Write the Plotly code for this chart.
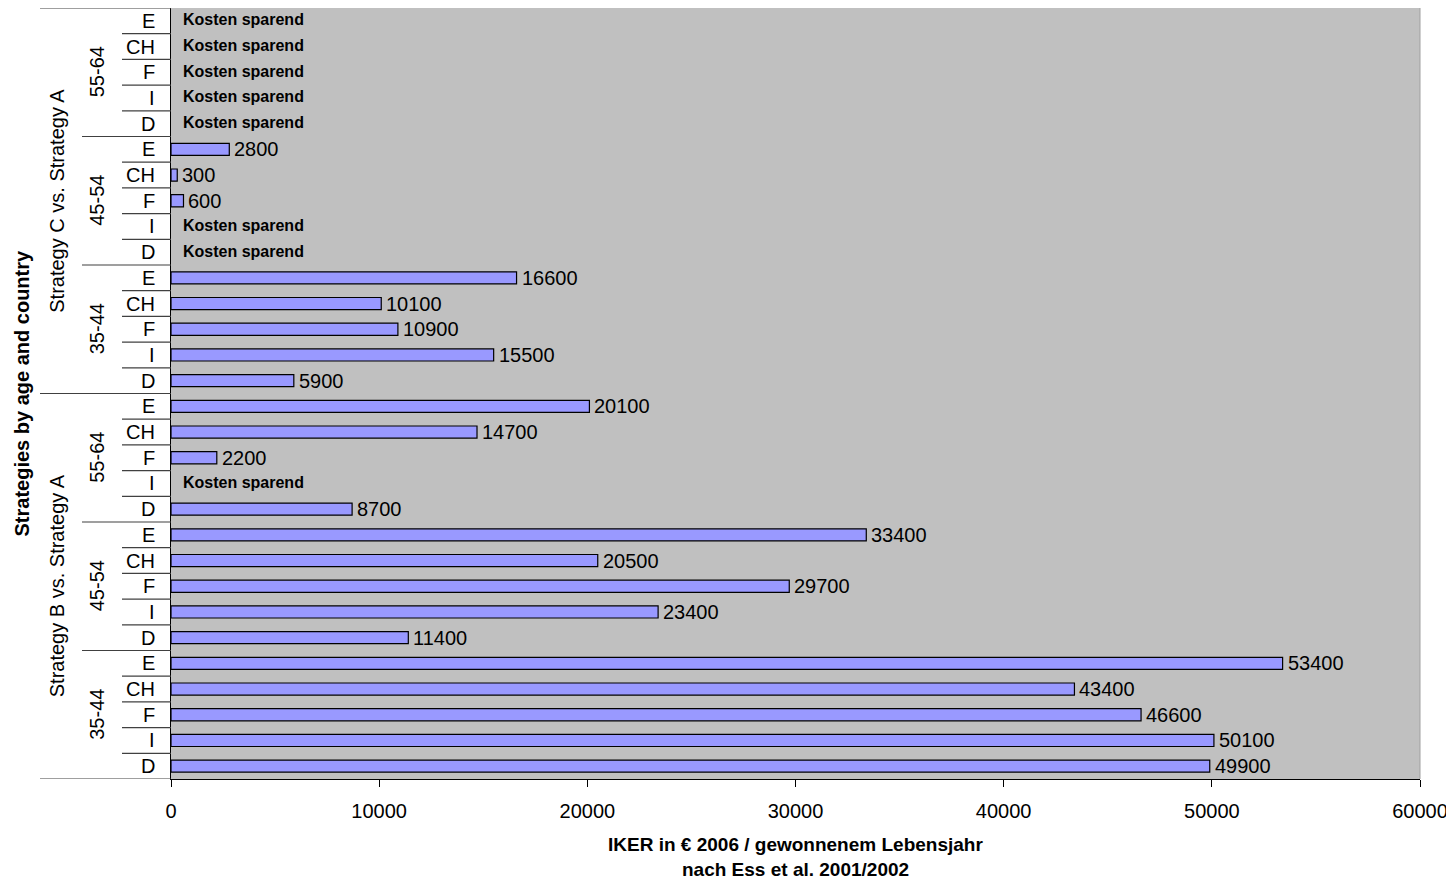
import plotly.graph_objects as go

# ---- data ----
countries = ["D", "I", "F", "CH", "E"]
ages = ["35-44", "45-54", "55-64"]
strategies = ["Strategy B vs. Strategy A", "Strategy C vs. Strategy A"]
# None = "Kosten sparend" (cost saving)
strategy_B = [49900, 50100, 46600, 43400, 53400,   # 35-44
              11400, 23400, 29700, 20500, 33400,   # 45-54
              8700, None, 2200, 14700, 20100]      # 55-64
strategy_C = [5900, 15500, 10900, 10100, 16600,    # 35-44
              None, None, 600, 300, 2800,          # 45-54
              None, None, None, None, None]        # 55-64
saving_label = "Kosten sparend"
x_ticks = [0, 10000, 20000, 30000, 40000, 50000, 60000]
x_title_1 = "IKER in € 2006 / gewonnenem Lebensjahr"
x_title_2 = "nach Ess et al. 2001/2002"
y_title = "Strategies by age and country"

values = strategy_B + strategy_C
n = len(values)
pos = list(range(n))

OFF = 8  # page body margin
W, H = 1446, 875
L, T = 171 - OFF, 0
R = W - (1420 - OFF)
B = H - (779 - OFF)
PW = W - L - R
PH = H - T - B


def px_x(p):
    return (p - OFF - L) / PW


def px_y(p):
    return ((H - B) - (p - OFF)) / PH


FONT = "Liberation Sans, Arial, sans-serif"
FS = 20

fig = go.Figure()
fig.add_trace(go.Bar(
    x=values, y=pos, orientation="h",
    marker=dict(color="#9999FF", line=dict(color="black", width=1.2)),
    width=0.47,
    hoverinfo="x+y",
))

ann = []
shapes = []
# value labels and Kosten sparend labels
for i, v in enumerate(values):
    if v is None:
        ann.append(dict(x=0, y=i, xref="x", yref="y", text="<b>" + saving_label + "</b>",
                        showarrow=False, xanchor="left", yanchor="middle", xshift=10, yshift=1,
                        font=dict(family=FONT, size=16, color="black")))
    else:
        ann.append(dict(x=v, y=i, xref="x", yref="y", text=str(v),
                        showarrow=False, xanchor="left", yanchor="middle", xshift=3,
                        font=dict(family=FONT, size=FS, color="black")))

line_c = "#404040"
# country labels
for i in range(n):
    c = countries[i % 5]
    ann.append(dict(x=px_x(157), y=i, xref="paper", yref="y", text=c, showarrow=False,
                    xanchor="right", yanchor="middle",
                    font=dict(family=FONT, size=FS, color="black")))
# separators between categories
for i in range(n + 1):
    yb = i - 0.5
    if i % 15 == 0:
        x0 = 40
    elif i % 5 == 0:
        x0 = 82
    else:
        x0 = 122
    shapes.append(dict(type="line", xref="paper", yref="y", x0=px_x(x0), x1=0,
                       y0=yb, y1=yb, line=dict(color=line_c, width=1.2)))
# age and strategy labels
for s in range(2):
    for a in range(3):
        center = s * 15 + a * 5 + 2
        ann.append(dict(x=px_x(97), y=center, xref="paper", yref="y", text=ages[a],
                        showarrow=False, textangle=-90, xanchor="center", yanchor="middle",
                        font=dict(family=FONT, size=FS, color="black")))
    ann.append(dict(x=px_x(57), y=s * 15 + 7, xref="paper", yref="y", text=strategies[s],
                    showarrow=False, textangle=-90, xanchor="center", yanchor="middle",
                    font=dict(family=FONT, size=FS, color="black")))
# y axis title
ann.append(dict(x=px_x(21), y=14.5, xref="paper", yref="y", text="<b>" + y_title + "</b>",
                showarrow=False, textangle=-90, xanchor="center", yanchor="middle",
                font=dict(family=FONT, size=FS, color="black")))
# x axis title
ann.append(dict(x=0.5, y=px_y(845), xref="paper", yref="paper",
                text="<b>" + x_title_1 + "</b>", showarrow=False,
                xanchor="center", yanchor="middle",
                font=dict(family=FONT, size=FS - 1, color="black")))
ann.append(dict(x=0.5, y=px_y(869), xref="paper", yref="paper",
                text="<b>" + x_title_2 + "</b>", showarrow=False,
                xanchor="center", yanchor="middle",
                font=dict(family=FONT, size=FS - 1, color="black")))

# right border of plot area
shapes.append(dict(type="line", xref="paper", yref="paper", x0=1, x1=1, y0=0, y1=1,
                   line=dict(color="#A0A0A0", width=1)))

fig.update_layout(
    width=W, height=H,
    margin=dict(l=L, r=R, t=T, b=B, autoexpand=False),
    paper_bgcolor="white", plot_bgcolor="#C0C0C0",
    showlegend=False,
    annotations=ann, shapes=shapes,
    xaxis=dict(range=[0, 60000], tickvals=x_ticks, ticktext=[str(t) for t in x_ticks],
               showgrid=False, zeroline=False, showline=True, linecolor="black", linewidth=1.2,
               ticks="outside", ticklen=7, tickcolor="black", ticklabelstandoff=7,
               tickfont=dict(family=FONT, size=FS, color="black")),
    yaxis=dict(range=[-0.5, n - 0.5], showticklabels=False, showgrid=False, zeroline=False,
               showline=True, linecolor="black", linewidth=1.2, ticks=""),
    font=dict(family=FONT),
)

fig.write_html("out.html")
